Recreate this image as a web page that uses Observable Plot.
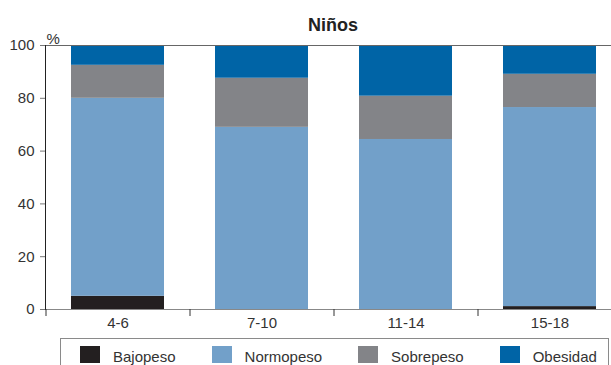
<!DOCTYPE html>
<html>
<head>
<meta charset="utf-8">
<script src="https://cdn.jsdelivr.net/npm/d3@7"></script>
<script src="https://cdn.jsdelivr.net/npm/@observablehq/plot@0.6"></script>
<style>
  body { margin: 0; background: #fff; overflow: hidden; }
  #chart { position: relative; width: 611px; height: 365px; overflow: hidden;
           font-family: "Liberation Sans", Arial, sans-serif; color: #333; }
  #chart > svg { position: absolute; left: 0; top: 0; }
  #title { position: absolute; left: 45px; width: 576px; top: 16px; line-height: 18px;
           text-align: center; font-size: 18px; font-weight: bold; color: #222; }
  #legend { position: absolute; left: 60px; top: 338px; width: 549px; height: 40px;
            box-sizing: border-box; border: 1px solid #8a8a8a; border-bottom: none;
            padding: 7px 0 0 19px; }
  .lg-swatches { font-family: "Liberation Sans", Arial, sans-serif; font-size: 15px; color: #333;
                 margin: 0; min-height: 0; align-items: flex-start; flex-wrap: nowrap !important; }
  .lg-swatch { margin-right: 36px; line-height: 22px; align-items: flex-start !important; white-space: nowrap; }
  .lg-swatch:last-child { margin-right: 0; }
  .lg-swatch > svg { margin-right: 13px; flex-shrink: 0; }
</style>
</head>
<body>
<div id="chart"></div>
<script>
// Age groups (x categories) and weight-status categories (stacked series)
const ageGroups = ["4-6", "7-10", "11-14", "15-18"];
const categories = ["Bajopeso", "Normopeso", "Sobrepeso", "Obesidad"];

// Percentages per age group, in the order of ageGroups
const bajopeso  = [5.0, 0.0, 0.0, 1.1];
const normopeso = [75.0, 69.0, 64.4, 75.4];
const sobrepeso = [12.5, 18.6, 16.4, 12.6];
const obesidad  = [7.5, 12.4, 19.2, 10.9];

const colors = ["#231f20", "#72a0c9", "#838488", "#0064a6"];
const yTicks = [0, 20, 40, 60, 80, 100];

const series = [bajopeso, normopeso, sobrepeso, obesidad];
const rows = ageGroups.flatMap((age, i) =>
  series.map((values, k) => ({age, category: categories[k], value: values[i]}))
);

const xRange = [45, 621];
const step = (xRange[1] - xRange[0]) / ageGroups.length;

const plot = Plot.plot({
  width: 611,
  height: 338,
  marginTop: 45,
  marginBottom: 29,
  marginLeft: 45,
  marginRight: 0,
  style: {fontFamily: "Liberation Sans, Arial, sans-serif", fontSize: "15px", color: "#333", overflow: "visible"},
  x: {domain: ageGroups, range: xRange, paddingInner: 0.355, paddingOuter: 0.1775, label: null},
  y: {domain: [0, 100], ticks: yTicks, label: null},
  color: {domain: categories, range: colors},
  marks: [
    Plot.barY(rows, Plot.stackY({x: "age", y: "value", fill: "category", order: categories})),
    Plot.ruleY([100], {stroke: "#666"}),
    Plot.ruleY([0], {stroke: "#888"}),
    Plot.frame({anchor: "left", stroke: "#222"}),
    Plot.axisY({ticks: yTicks, tickSize: 5, tickPadding: 6, stroke: "#777", label: null}),
    // ticks at the boundaries between age groups
    Plot.axisX({ticks: ageGroups, tickSize: 7, text: null, dx: -step / 2, stroke: "#333", label: null}),
    Plot.axisX({tickSize: 0, tickPadding: 8, label: null}),
    Plot.text(["%"], {frameAnchor: "top-left", dx: 1, dy: -12, textAnchor: "start", fontSize: 15})
  ]
});

const chart = document.getElementById("chart");
chart.appendChild(plot);

const title = document.createElement("div");
title.id = "title";
title.textContent = "Niños";
chart.appendChild(title);

const legendBox = document.createElement("div");
legendBox.id = "legend";
legendBox.appendChild(plot.legend("color", {swatchWidth: 20, swatchHeight: 17, className: "lg"}));
chart.appendChild(legendBox);
</script>
</body>
</html>
